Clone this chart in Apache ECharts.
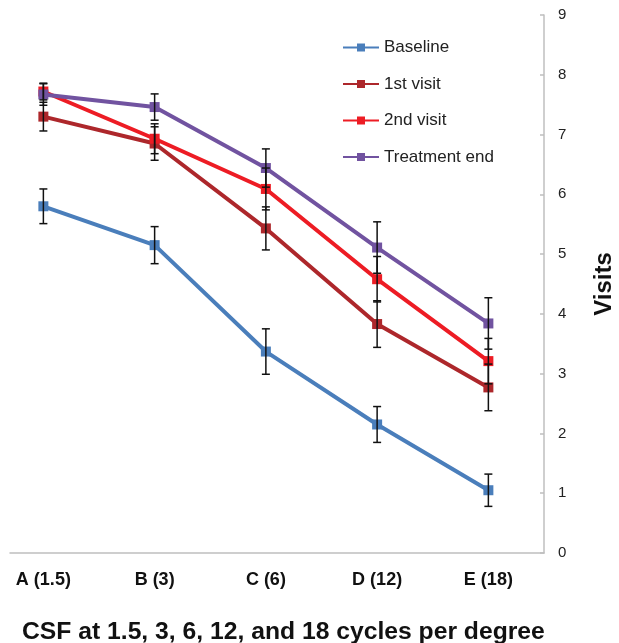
<!DOCTYPE html>
<html><head><meta charset="utf-8">
<script src="https://cdn.jsdelivr.net/npm/echarts@6/dist/echarts.min.js"></script>
<style>html,body{margin:0;padding:0;background:#fff}#c{width:619px;height:643px}</style>
</head><body><div id="c"></div>
<script>
const categories = ['A (1.5)', 'B (3)', 'C (6)', 'D (12)', 'E (18)'];
const seriesNames = ['Baseline', '1st visit', '2nd visit', 'Treatment end'];
const baseline = [5.80, 5.15, 3.37, 2.15, 1.05];
const visit1 = [7.30, 6.85, 5.43, 3.83, 2.77];
const visit2 = [7.72, 6.93, 6.09, 4.58, 3.21];
const treatmentEnd = [7.67, 7.46, 6.44, 5.11, 3.84];
const baselineErr = [0.29, 0.31, 0.38, 0.30, 0.27];
const visit1Err = [0.24, 0.28, 0.36, 0.39, 0.39];
const visit2Err = [0.14, 0.25, 0.35, 0.38, 0.38];
const treatmentEndErr = [0.18, 0.22, 0.32, 0.43, 0.43];
const yTicks = [0, 1, 2, 3, 4, 5, 6, 7, 8, 9];
const colors = ['#4A7EBB', '#AD272B', '#ED1C24', '#7153A0'];

const values = [baseline, visit1, visit2, treatmentEnd];
const errs = [baselineErr, visit1Err, visit2Err, treatmentEndErr];

const lineSeries = values.map((vals, s) => ({
  name: seriesNames[s],
  type: 'line',
  data: vals.map((v, i) => [i, v]),
  symbol: 'rect',
  symbolSize: 10,
  lineStyle: { width: 4, color: colors[s] },
  itemStyle: { color: colors[s] },
  z: 2 + s
}));

const errSeries = values.map((vals, s) => ({
  name: seriesNames[s] + ' err',
  type: 'custom',
  data: vals.map((v, i) => [i, v - errs[s][i], v + errs[s][i]]),
  z: 10,
  silent: true,
  renderItem: function (params, api) {
    const x = api.value(0);
    const lo = api.coord([x, api.value(1)]);
    const hi = api.coord([x, api.value(2)]);
    const w = 4;
    const style = { stroke: '#111', lineWidth: 1.5 };
    return {
      type: 'group',
      children: [
        { type: 'line', shape: { x1: lo[0], y1: lo[1], x2: hi[0], y2: hi[1] }, style },
        { type: 'line', shape: { x1: lo[0] - w, y1: lo[1], x2: lo[0] + w, y2: lo[1] }, style },
        { type: 'line', shape: { x1: hi[0] - w, y1: hi[1], x2: hi[0] + w, y2: hi[1] }, style }
      ]
    };
  }
}));

const chart = echarts.init(document.getElementById('c'));
chart.setOption({
  animation: false,
  backgroundColor: '#fff',
  title: {
    text: 'CSF at 1.5, 3, 6, 12, and 18 cycles per degree',
    left: 17, top: 615,
    textStyle: { fontFamily: 'Liberation Sans, Arial', fontWeight: 'bold', fontSize: 24.7, color: '#111' }
  },
  legend: {
    data: seriesNames,
    orient: 'vertical',
    left: 337, top: 34,
    itemGap: 19.5,
    itemWidth: 36, itemHeight: 10,
    textStyle: { fontFamily: 'Liberation Sans, Arial', fontSize: 17, color: '#222' }
  },
  grid: { left: 10, right: 75, top: 15, bottom: 90, containLabel: false, outerBoundsMode: 'none' },
  xAxis: {
    type: 'value',
    min: -0.3, max: 4.5,
    splitLine: { show: false },
    axisLine: { show: true, onZero: false, lineStyle: { color: '#BFBFBF', width: 1.5 } },
    axisTick: { show: false },
    axisLabel: {
      customValues: [0, 1, 2, 3, 4],
      formatter: v => categories[Math.round(v)],
      margin: 18,
      fontFamily: 'Liberation Sans, Arial', fontWeight: 'bold', fontSize: 18, color: '#111'
    }
  },
  yAxis: {
    type: 'value',
    position: 'right',
    min: yTicks[0], max: yTicks[yTicks.length - 1], interval: 1,
    splitLine: { show: false },
    axisLine: { show: true, onZero: false, lineStyle: { color: '#BFBFBF', width: 1.5 } },
    axisTick: { show: true, inside: true, length: 4, lineStyle: { color: '#BFBFBF', width: 1.5 } },
    axisLabel: { margin: 14, fontFamily: 'Liberation Sans, Arial', fontSize: 15, color: '#222' },
    name: 'Visits',
    nameLocation: 'middle',
    nameRotate: 90,
    nameGap: 48,
    nameTextStyle: { fontFamily: 'Liberation Sans, Arial', fontWeight: 'bold', fontSize: 24, color: '#111' }
  },
  series: lineSeries.concat(errSeries)
});
</script></body></html>
